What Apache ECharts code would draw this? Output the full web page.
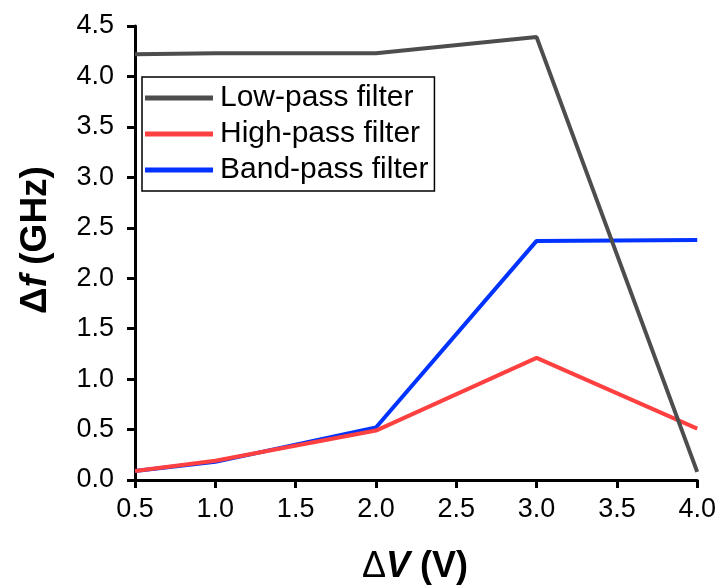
<!DOCTYPE html>
<html>
<head>
<meta charset="utf-8">
<script src="https://cdn.jsdelivr.net/npm/echarts@6/dist/echarts.min.js"></script>
<style>
  html, body { margin: 0; padding: 0; background: #fff; }
  #chart { width: 719px; height: 585px; }
</style>
</head>
<body>
<div id="chart"></div>
<script>
// Voltage difference ΔV (V)
const voltages = [0.5, 1.0, 2.0, 3.0, 4.0];
// Frequency shift Δf (GHz) for each filter type
const lowPass = [4.22, 4.23, 4.23, 4.39, 0.08];
const highPass = [0.09, 0.19, 0.49, 1.21, 0.51];
const bandPass = [0.09, 0.18, 0.52, 2.37, 2.38];

const seriesNames = ['Low-pass filter', 'High-pass filter', 'Band-pass filter'];
const seriesColors = ['#4d4d4d', '#ff4040', '#0033ff'];
const seriesValues = [lowPass, highPass, bandPass];

const FONT = '"Liberation Sans", Arial, sans-serif';

const chart = echarts.init(document.getElementById('chart'), null, { renderer: 'canvas' });

const axisCommon = {
  axisLine: { show: true, lineStyle: { color: '#000', width: 3 } },
  axisTick: { show: true, inside: false, length: 8, lineStyle: { color: '#000', width: 3 } },
  splitLine: { show: false },
  axisLabel: { color: '#000', fontSize: 27, fontFamily: FONT },
};

const titleRich = (size, deltaWeight) => ({
  d: { fontSize: size, fontWeight: deltaWeight, fontFamily: FONT, fill: '#000' },
  i: { fontSize: size, fontWeight: 'bold', fontStyle: 'italic', fontFamily: FONT, fill: '#000' },
  b: { fontSize: size, fontWeight: 'bold', fontFamily: FONT, fill: '#000' }
});

chart.setOption({
  animation: false,
  backgroundColor: '#fff',
  grid: { left: 135, right: 21, top: 26, bottom: 105, containLabel: false },
  xAxis: Object.assign({}, axisCommon, {
    type: 'value',
    min: 0.5,
    max: 4.0,
    interval: 0.5,
    axisLabel: Object.assign({}, axisCommon.axisLabel, {
      margin: 16,
      formatter: v => v.toFixed(1)
    })
  }),
  yAxis: Object.assign({}, axisCommon, {
    type: 'value',
    min: 0,
    max: 4.5,
    interval: 0.5,
    axisLabel: Object.assign({}, axisCommon.axisLabel, {
      margin: 21,
      formatter: v => v.toFixed(1)
    })
  }),
  // Axis titles with a bold italic variable symbol
  graphic: [
    {
      type: 'text',
      x: 415, y: 567,
      style: {
        text: '{d|Δ}{i|V}{b| (V)}',
        align: 'center',
        verticalAlign: 'middle',
        rich: titleRich(36, 'normal')
      }
    },
    {
      type: 'text',
      x: 36, y: 240,
      rotation: Math.PI / 2,
      style: {
        text: '{d|Δ}{i|f}{b| (GHz)}',
        align: 'center',
        verticalAlign: 'middle',
        rich: titleRich(37, 'bold')
      }
    }
  ],
  legend: {
    show: true,
    orient: 'vertical',
    left: 142,
    top: 77,
    padding: [6, 6, 6, 3],
    itemGap: 6,
    itemWidth: 68,
    itemHeight: 5,
    icon: 'rect',
    borderColor: '#000',
    borderWidth: 1.5,
    backgroundColor: '#fff',
    textStyle: { fontSize: 30, lineHeight: 30, fontFamily: FONT, color: '#000', padding: [0, 0, 0, 2] },
    data: seriesNames
  },
  series: seriesNames.map((name, k) => ({
    name: name,
    type: 'line',
    data: voltages.map((v, i) => [v, seriesValues[k][i]]),
    showSymbol: false,
    symbol: 'none',
    lineStyle: { color: seriesColors[k], width: 4 },
    itemStyle: { color: seriesColors[k] },
    z: 3 - k
  }))
});
</script>
</body>
</html>
